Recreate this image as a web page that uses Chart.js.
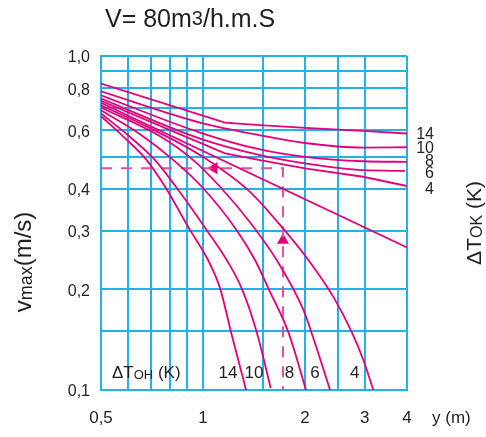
<!DOCTYPE html>
<html>
<head>
<meta charset="utf-8">
<script src="https://cdn.jsdelivr.net/npm/chart.js@4.4.1/dist/chart.umd.min.js"></script>
<style>
  html, body { margin: 0; padding: 0; background: #fff; }
  canvas { display: block; }
</style>
</head>
<body>
<canvas id="chart" width="486" height="437"></canvas>
<script>
// grid / tick values (log-log)
const xTicks = [0.5, 0.6, 0.7, 0.8, 0.9, 1, 1.5, 2, 2.5, 3, 4];
const xLabelValues = [0.5, 1, 2, 3, 4];
const xLabelText = ['0,5', '1', '2', '3', '4'];
const yTicks = [0.1, 0.15, 0.2, 0.3, 0.4, 0.5, 0.6, 0.7, 0.8, 0.9, 1.0];
const yLabelValues = [0.1, 0.2, 0.3, 0.4, 0.6, 0.8, 1.0];
const yLabelText = ['0,1', '0,2', '0,3', '0,4', '0,6', '0,8', '1,0'];

const deltaT = ['14', '10', '8', '6', '4'];

// ΔTOK curves (upper family)
const tok14X = [0.5, 1.161, 1.473, 2.0, 2.967, 4];
const tok14Y = [0.827, 0.632, 0.621, 0.609, 0.597, 0.586];
const tok10X = [0.5, 0.98, 1.473, 2.0, 2.967, 4];
const tok10Y = [0.784, 0.632, 0.579, 0.549, 0.532, 0.533];
const tok8X = [0.5, 0.98, 1.473, 2.0, 2.967, 4];
const tok8Y = [0.763, 0.590, 0.525, 0.499, 0.484, 0.482];
const tok6X = [0.5, 0.98, 1.473, 2.0, 2.967, 3.946];
const tok6Y = [0.746, 0.566, 0.505, 0.477, 0.455, 0.453];
const tok4X = [0.5, 1.161, 1.473, 2.0, 2.967, 4];
const tok4Y = [0.734, 0.511, 0.488, 0.461, 0.435, 0.408];

// isothermal line
const isoX = [0.5, 4];
const isoY = [0.724, 0.267];

// ΔTOH curves (lower family)
const toh4X = [0.5, 0.698, 0.98, 1.376, 1.688, 2.046, 2.425, 2.748, 2.973, 3.182];
const toh4Y = [0.712, 0.608, 0.505, 0.392, 0.312, 0.245, 0.190, 0.149, 0.123, 0.1];
const toh6X = [0.5, 0.747, 0.936, 1.123, 1.376, 1.650, 1.977, 2.141, 2.371];
const toh6Y = [0.701, 0.575, 0.488, 0.406, 0.318, 0.245, 0.174, 0.138, 0.1];
const toh8X = [0.5, 0.652, 0.818, 0.992, 1.257, 1.424, 1.559, 1.786, 2.014];
const toh8Y = [0.688, 0.583, 0.488, 0.406, 0.301, 0.245, 0.2015, 0.149, 0.1];
const toh10X = [0.5, 0.601, 0.722, 0.832, 1.026, 1.175, 1.301, 1.441, 1.584];
const toh10Y = [0.673, 0.579, 0.488, 0.406, 0.301, 0.245, 0.2015, 0.149, 0.1014];
const toh14X = [0.5, 0.585, 0.682, 0.773, 0.916, 1.035, 1.123, 1.210, 1.340];
const toh14Y = [0.660, 0.571, 0.488, 0.406, 0.301, 0.245, 0.2015, 0.149, 0.1];

// example reading (dashed) and arrows
const readX = [0.5, 1.722, 1.722];
const readY = [0.4615, 0.4615, 0.1];
const arrowX = [1.078, 1.722];
const arrowY = [0.4615, 0.281];
const arrowRot = [270, 0];

const MAG = '#e4007c';
const DASH = '#ea4c9c';
const CYAN = '#22b2ea';
const INK = '#231f20';
const FONT = '"Liberation Sans", Arial, Helvetica, sans-serif';

const pts = (xs, ys) => xs.map((x, i) => ({ x: x, y: ys[i] }));

function curve(xs, ys, straight) {
  return {
    data: pts(xs, ys),
    borderColor: MAG,
    borderWidth: 1.8,
    pointRadius: 0,
    tension: straight ? 0 : 0.4,
    cubicInterpolationMode: straight ? 'default' : 'monotone',
    fill: false
  };
}

// mixed size text: parts = [text, size, raise]
function richText(ctx, x, y, parts, align) {
  let w = 0;
  parts.forEach(p => { ctx.font = p[1] + 'px ' + FONT; w += ctx.measureText(p[0]).width; });
  let cx = align === 'center' ? x - w / 2 : (align === 'right' ? x - w : x);
  parts.forEach(p => {
    ctx.font = p[1] + 'px ' + FONT;
    ctx.fillText(p[0], cx, y - (p[2] || 0));
    cx += ctx.measureText(p[0]).width;
  });
}

const textPlugin = {
  id: 'texts',
  afterDraw(chart) {
    const ctx = chart.ctx;
    ctx.save();
    ctx.fillStyle = INK;
    ctx.textBaseline = 'alphabetic';
    ctx.textAlign = 'left';

    richText(ctx, 105, 27, [['V= 80m', 25], ['3', 20, 2], ['/h.m.S', 25]], 'left');

    // left axis title
    ctx.save();
    ctx.translate(31, 262);
    ctx.rotate(-Math.PI / 2);
    richText(ctx, 0, 0, [['v', 24], ['max', 18, -1], ['(m/s)', 24]], 'center');
    ctx.restore();

    // right axis title
    ctx.save();
    ctx.translate(481, 223);
    ctx.rotate(-Math.PI / 2);
    richText(ctx, 0, 0, [['ΔT', 21], ['OK', 16, -1], [' (K)', 21]], 'center');
    ctx.restore();

    // right curve labels
    const rightBase = [139, 153, 165.5, 177.5, 194];
    deltaT.forEach((t, i) => richText(ctx, 434, rightBase[i], [[t, 16]], 'right'));

    // inner labels along the bottom
    richText(ctx, 112, 378, [['ΔT', 17], ['OH', 13, -1], [' (K)', 17]], 'left');
    const bottomCx = [228, 254, 289.5, 315, 354.7];
    deltaT.forEach((t, i) => richText(ctx, bottomCx[i], 378, [[t, 17]], 'center'));

    richText(ctx, 432, 423, [['y (m)', 17]], 'left');
    ctx.restore();
  }
};

const datasets = [
  curve(tok14X, tok14Y, true),
  curve(tok10X, tok10Y),
  curve(tok8X, tok8Y),
  curve(tok6X, tok6Y),
  curve(tok4X, tok4Y, true),
  curve(isoX, isoY, true),
  curve(toh4X, toh4Y),
  curve(toh6X, toh6Y),
  curve(toh8X, toh8Y),
  curve(toh10X, toh10Y),
  curve(toh14X, toh14Y),
  {
    data: pts(readX, readY),
    borderColor: DASH,
    borderWidth: 2,
    borderDash: [11, 9],
    pointRadius: 0,
    tension: 0,
    fill: false
  },
  {
    data: pts(arrowX, arrowY),
    showLine: false,
    pointStyle: 'triangle',
    pointRotation: arrowRot,
    pointRadius: 7,
    pointBackgroundColor: MAG,
    pointBorderColor: MAG,
    pointBorderWidth: 0
  }
];

new Chart(document.getElementById('chart'), {
  type: 'line',
  data: { datasets: datasets },
  options: {
    responsive: false,
    animation: false,
    devicePixelRatio: 1,
    layout: { padding: { top: 56, right: 79, left: 0, bottom: 0 } },
    plugins: { legend: { display: false }, tooltip: { enabled: false } },
    scales: {
      x: {
        type: 'logarithmic',
        min: 0.5,
        max: 4,
        afterBuildTicks: s => { s.ticks = xTicks.map(v => ({ value: v })); },
        afterFit: s => { s.height = 47; },
        grid: { color: CYAN, lineWidth: 2, drawTicks: false },
        border: { color: CYAN, width: 2 },
        ticks: {
          autoSkip: false,
          maxRotation: 0,
          padding: 18,
          color: INK,
          font: { family: FONT, size: 17 },
          callback: v => {
            const i = xLabelValues.findIndex(l => Math.abs(l - v) < 1e-6);
            return i >= 0 ? xLabelText[i] : '';
          }
        }
      },
      y: {
        type: 'logarithmic',
        min: 0.1,
        max: 1.0,
        afterBuildTicks: s => { s.ticks = yTicks.map(v => ({ value: v })); },
        afterFit: s => { s.width = 101; },
        grid: { color: CYAN, lineWidth: 2, drawTicks: false },
        border: { color: CYAN, width: 2 },
        ticks: {
          autoSkip: false,
          padding: 11,
          labelOffset: 2,
          color: INK,
          font: { family: FONT, size: 16 },
          callback: v => {
            const i = yLabelValues.findIndex(l => Math.abs(l - v) < 1e-6);
            return i >= 0 ? yLabelText[i] : '';
          }
        }
      }
    }
  },
  plugins: [textPlugin]
});
</script>
</body>
</html>
